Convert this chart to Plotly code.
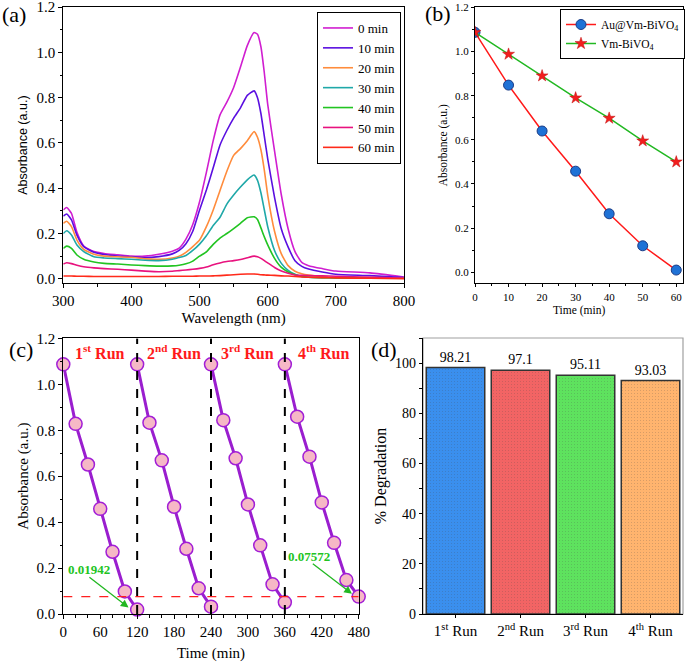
import plotly.graph_objects as go

# ---------------- data ----------------
wavelength = [300, 305, 312, 320, 330, 345, 360, 380, 400, 420, 440, 460, 470, 480, 490, 500,
              510, 520, 530, 540, 550, 560, 570, 580, 585, 590, 595, 600, 610, 620, 630, 640,
              650, 660, 680, 700, 750, 800]
spec_0 = [0.304, 0.315, 0.289, 0.205, 0.145, 0.12, 0.112, 0.106, 0.1, 0.1, 0.108, 0.122, 0.135, 0.175,
          0.24, 0.34, 0.47, 0.61, 0.724, 0.78, 0.845, 0.935, 1.03, 1.088, 1.08, 1.025, 0.91, 0.77,
          0.565, 0.37, 0.22, 0.12, 0.072, 0.058, 0.045, 0.034, 0.026, 0.008]
spec_10 = [0.277, 0.286, 0.26, 0.193, 0.142, 0.117, 0.107, 0.1, 0.097, 0.093, 0.098, 0.11, 0.125, 0.155,
           0.21, 0.304, 0.392, 0.49, 0.591, 0.655, 0.71, 0.755, 0.81, 0.83, 0.8, 0.73, 0.63, 0.53,
           0.36, 0.22, 0.14, 0.08, 0.055, 0.043, 0.03, 0.02, 0.014, 0.005]
spec_20 = [0.245, 0.254, 0.23, 0.171, 0.13, 0.108, 0.1, 0.097, 0.095, 0.088, 0.086, 0.092, 0.1, 0.117,
           0.142, 0.171, 0.23, 0.304, 0.39, 0.475, 0.545, 0.575, 0.61, 0.65, 0.625, 0.57, 0.48, 0.37,
           0.21, 0.11, 0.058, 0.033, 0.022, 0.016, 0.01, 0.007, 0.005, 0.003]
spec_30 = [0.2, 0.212, 0.193, 0.149, 0.12, 0.097, 0.092, 0.089, 0.086, 0.082, 0.08, 0.086, 0.094, 0.103,
           0.125, 0.153, 0.19, 0.235, 0.272, 0.33, 0.37, 0.405, 0.437, 0.458, 0.435, 0.38, 0.305, 0.23,
           0.125, 0.068, 0.037, 0.02, 0.01, 0.007, 0.005, 0.004, 0.003, 0.002]
spec_40 = [0.134, 0.144, 0.134, 0.105, 0.086, 0.074, 0.068, 0.065, 0.061, 0.058, 0.056, 0.057, 0.06, 0.066,
           0.078, 0.1, 0.119, 0.152, 0.18, 0.2, 0.222, 0.245, 0.27, 0.274, 0.262, 0.225, 0.185, 0.15,
           0.09, 0.05, 0.03, 0.018, 0.01, 0.007, 0.005, 0.004, 0.003, 0.002]
spec_50 = [0.065, 0.071, 0.067, 0.06, 0.053, 0.048, 0.045, 0.042, 0.038, 0.034, 0.031, 0.033, 0.036, 0.039,
           0.042, 0.046, 0.052, 0.062, 0.07, 0.076, 0.08, 0.085, 0.093, 0.1, 0.097, 0.09, 0.08, 0.07,
           0.05, 0.034, 0.024, 0.017, 0.015, 0.014, 0.013, 0.011, 0.007, 0.003]
spec_60 = [0.012, 0.012, 0.012, 0.011, 0.011, 0.01, 0.01, 0.01, 0.01, 0.01, 0.01, 0.011, 0.011, 0.011,
           0.011, 0.012, 0.012, 0.013, 0.014, 0.016, 0.018, 0.02, 0.021, 0.021, 0.02, 0.018, 0.017, 0.016,
           0.015, 0.013, 0.012, 0.01, 0.008, 0.007, 0.005, 0.004, 0.002, 0.0]
spec_labels = ["0 min", "10 min", "20 min", "30 min", "40 min", "50 min", "60 min"]
spec_colors = ["#D01ED0", "#5A0FE0", "#FF8C3C", "#1FA8A8", "#22C422", "#E8127E", "#FF2A1A"]

time_b = [0, 10, 20, 30, 40, 50, 60]
au_vm = [1.087, 0.848, 0.64, 0.458, 0.265, 0.12, 0.01]
vm = [1.087, 0.988, 0.89, 0.79, 0.698, 0.595, 0.5]

run_times = [[0, 20, 40, 60, 80, 100, 120],
             [120, 140, 160, 180, 200, 220, 240],
             [240, 260, 280, 300, 320, 340, 360],
             [360, 380, 400, 420, 440, 460, 480]]
run_abs = [[1.087, 0.828, 0.651, 0.458, 0.271, 0.098, 0.01942],
           [1.087, 0.833, 0.669, 0.467, 0.284, 0.112, 0.032],
           [1.087, 0.844, 0.678, 0.477, 0.299, 0.129, 0.051],
           [1.087, 0.859, 0.685, 0.486, 0.31, 0.148, 0.07572]]
run_bounds = [120, 240, 360]
run_label_x = [60, 180, 300, 422]
run_labels = ["1<sup>st</sup> Run", "2<sup>nd</sup> Run", "3<sup>rd</sup> Run", "4<sup>th</sup> Run"]
final_values = ["0.01942", "0.07572"]
final_label_pos = [(42, 0.194), (400, 0.252)]
final_arrow_tail = [(40, 0.165), (403, 0.224)]
final_arrow_head = [(106, 0.028), (469, 0.088)]
threshold = 0.07572

bar_categories = [0, 1, 2, 3]
bar_labels = ["1<sup>st</sup> Run", "2<sup>nd</sup> Run", "3<sup>rd</sup> Run", "4<sup>th</sup> Run"]
degradation = [98.21, 97.1, 95.11, 93.03]
bar_colors = ["#3A8FEE", "#F26464", "#5EE25E", "#FFB46E"]

SERIF = "Liberation Serif"
SANS = "Liberation Sans"
W, H = 685, 665


def px_x(p):
    return p / W


def px_y(p):
    return 1 - p / H


fig = go.Figure()

# ---------------- panel (a) ----------------
specs = [spec_0, spec_10, spec_20, spec_30, spec_40, spec_50, spec_60]
for lab, col, ys in zip(spec_labels, spec_colors, specs):
    fig.add_trace(go.Scatter(x=wavelength, y=ys, mode="lines", name=lab,
                             line=dict(color=col, width=1.6, shape="spline", smoothing=0.5),
                             xaxis="x", yaxis="y", legend="legend"))

# ---------------- panel (b) ----------------
fig.add_trace(go.Scatter(x=time_b, y=au_vm, mode="lines+markers", name="Au@Vm-BiVO<sub>4</sub>",
                         line=dict(color="#FF1A1A", width=1.5),
                         marker=dict(symbol="circle", size=10, color="#1F72D6",
                                     line=dict(color="#1B3C86", width=1)),
                         xaxis="x2", yaxis="y2", legend="legend2"))
fig.add_trace(go.Scatter(x=time_b, y=vm, mode="lines+markers", name="Vm-BiVO<sub>4</sub>",
                         line=dict(color="#22B822", width=1.5),
                         marker=dict(symbol="star", size=9, color="#F21E1E",
                                     line=dict(color="#C01010", width=0.5)),
                         xaxis="x2", yaxis="y2", legend="legend2"))

# ---------------- panel (c) ----------------
for t, a in zip(run_times, run_abs):
    fig.add_trace(go.Scatter(x=t, y=a, mode="lines+markers", showlegend=False,
                             line=dict(color="#9A1ECF", width=3),
                             marker=dict(size=13, color="#F6B8C6",
                                         line=dict(color="#A21ED6", width=1.5)),
                             cliponaxis=False, xaxis="x3", yaxis="y3"))

# ---------------- panel (d) ----------------
fig.add_trace(go.Bar(x=bar_categories, y=degradation, showlegend=False,
                     marker=dict(color=bar_colors, line=dict(color="#333333", width=1.5),
                                 pattern=dict(shape=".", size=3, solidity=0.12,
                                              fgcolor="#555555", fgopacity=0.25)),
                     text=[f"{v}" for v in degradation], textposition="outside",
                     textfont=dict(family=SERIF, size=14, color="black"),
                     cliponaxis=False, xaxis="x4", yaxis="y4"))

axis_common = dict(showline=True, linecolor="black", linewidth=1.3, ticks="outside",
                   tickcolor="black", showgrid=False, zeroline=False, automargin=False,
                   ticklabeloverflow="allow")

shapes = []
for b in run_bounds:
    shapes.append(dict(type="line", xref="x3", yref="y3", x0=b, x1=b, y0=0, y1=1.2,
                       line=dict(color="black", width=2, dash="dash")))
shapes.append(dict(type="line", xref="x3", yref="y3", x0=0, x1=run_times[-1][-1], y0=threshold, y1=threshold,
                   line=dict(color="#FF2020", width=1.2, dash="dash")))
shapes.append(dict(type="rect", xref="x4 domain", yref="y4 domain", x0=0, x1=1, y0=0, y1=1,
                   line=dict(color="#A0A0A0", width=1.2), layer="below"))

annotations = []
for xl, lab in zip(run_label_x, run_labels):
    annotations.append(dict(x=xl, y=1.14, xref="x3", yref="y3", text=f"<b>{lab}</b>",
                            showarrow=False, font=dict(family=SERIF, size=16, color="#FF1A1A")))
for val, (lx, ly), (tx, ty), (hx, hy) in zip(final_values, final_label_pos, final_arrow_tail, final_arrow_head):
    annotations.append(dict(x=lx, y=ly, xref="x3", yref="y3", text=f"<b>{val}</b>", showarrow=False,
                            font=dict(family=SERIF, size=13, color="#22C422")))
    annotations.append(dict(x=hx, y=hy, ax=tx, ay=ty, xref="x3", yref="y3", axref="x3", ayref="y3",
                            text="", showarrow=True, arrowhead=2, arrowsize=1.2, arrowwidth=1.3,
                            arrowcolor="#22B822"))

# panel letters
for txt, x, y in [("(a)", 14, 15), ("(b)", 438, 14), ("(c)", 21, 349), ("(d)", 384, 349)]:
    annotations.append(dict(x=px_x(x), y=px_y(y), xref="paper", yref="paper", text=txt,
                            showarrow=False, xanchor="center", yanchor="middle",
                            font=dict(family=SERIF, size=22, color="black")))


def tf(size):
    return dict(family=SERIF, size=size, color="black")


fig.update_layout(
    width=W, height=H, autosize=False, margin=dict(l=0, r=0, t=0, b=0, pad=0, autoexpand=False),
    paper_bgcolor="white", plot_bgcolor="white",
    font=dict(family=SERIF, color="black"),
    bargap=0.1,
    xaxis=dict(**axis_common, domain=[px_x(63.3), px_x(404)], range=[300, 800], dtick=100, ticklen=4,
               tickfont=tf(15), mirror=True, anchor="y",
               minor=dict(ticks="outside", dtick=50, ticklen=2.5, tickcolor="black"),
               title=dict(text="Wavelength (nm)", font=tf(15), standoff=4)),
    yaxis=dict(**axis_common, domain=[px_y(283.3), px_y(7)], range=[-0.02, 1.2005], tick0=0, dtick=0.2,
               ticklen=4, tickformat=".1f", tickfont=tf(15), mirror=True, anchor="x",
               minor=dict(ticks="outside", dtick=0.1, ticklen=2.5, tickcolor="black"),
               title=dict(text="Absorbance (a.u.)", font=dict(family=SANS, size=12.5, color="black"),
                          standoff=6)),
    xaxis2=dict(**axis_common, domain=[px_x(475), px_x(683.3)], range=[0, 62.1], dtick=10, ticklen=3,
                tickfont=tf(11), mirror=True, anchor="y2",
                minor=dict(ticks="outside", dtick=5, ticklen=2, tickcolor="black"),
                title=dict(text="Time (min)", font=tf(11.5), standoff=4)),
    yaxis2=dict(**axis_common, domain=[px_y(283.3), px_y(7.3)], range=[-0.05, 1.2005], tick0=0, dtick=0.2,
                ticklen=3, tickformat=".1f", tickfont=tf(11), mirror=True, anchor="x2",
                minor=dict(ticks="outside", dtick=0.1, ticklen=2, tickcolor="black"),
                title=dict(text="Absorbance (a.u.)", font=tf(11.5), standoff=4)),
    xaxis3=dict(**axis_common, domain=[px_x(63.3), px_x(358.7)], range=[0, 480], dtick=60, ticklen=4,
                tickfont=tf(15), mirror=True, anchor="y3",
                minor=dict(ticks="outside", dtick=20, ticklen=2.5, tickcolor="black"),
                title=dict(text="Time (min)", font=tf(15), standoff=8)),
    yaxis3=dict(**axis_common, domain=[px_y(614), px_y(338.3)], range=[0, 1.2005], tick0=0, dtick=0.2,
                ticklen=4, tickformat=".1f", tickfont=tf(15), mirror=True, anchor="x3",
                minor=dict(ticks="outside", dtick=0.1, ticklen=2.5, tickcolor="black"),
                title=dict(text="Absorbance (a.u.)", font=tf(15), standoff=4)),
    xaxis4=dict(**axis_common, domain=[px_x(423), px_x(683)], range=[-0.5, 3.5], ticklen=3,
                tickvals=bar_categories, ticktext=bar_labels, tickfont=tf(15), anchor="y4"),
    yaxis4=dict(**axis_common, domain=[px_y(614), px_y(338)], range=[0, 110], dtick=20, ticklen=3,
                tickfont=tf(14), anchor="x4",
                minor=dict(ticks="outside", dtick=10, ticklen=3, tickcolor="black"),
                title=dict(text="% Degradation", font=tf(16), standoff=4)),
    legend=dict(x=px_x(317), y=px_y(12), xanchor="left", yanchor="top", bgcolor="white",
                bordercolor="black", borderwidth=1, font=tf(13),
                itemwidth=30, tracegroupgap=0),
    legend2=dict(x=px_x(560), y=px_y(9), xanchor="left", yanchor="top", bgcolor="white",
                 bordercolor="black", borderwidth=1, font=tf(11.5),
                 itemwidth=30, tracegroupgap=0),
    shapes=shapes,
    annotations=annotations,
)

fig.write_html("out.html")
